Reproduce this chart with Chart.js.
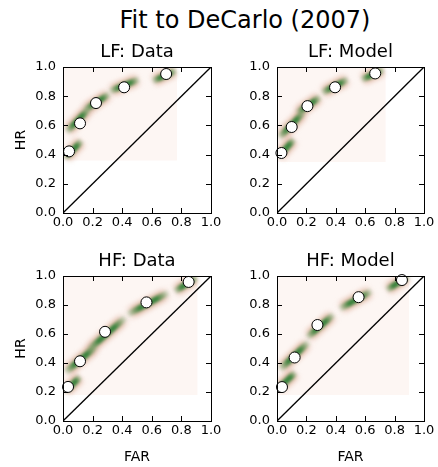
<!DOCTYPE html>
<html>
<head>
<meta charset="utf-8">
<script src="https://cdn.jsdelivr.net/npm/chart.js@4.4.1/dist/chart.umd.min.js"></script>
<style>
  body { margin: 0; background: #fff; width: 438px; height: 467px; position: relative; overflow: hidden; font-family: "DejaVu Sans"; }
  canvas { position: absolute; }
  #title { position: absolute; left: 0; width: 490px; top: 6px; text-align: center; font-size: 24px; color: #000; }
</style>
</head>
<body>
<div id="title">Fit to DeCarlo (2007)</div>
<canvas id="c0" width="232" height="200" style="left:0px;top:36px"></canvas>
<canvas id="c1" width="219" height="200" style="left:219px;top:36px"></canvas>
<canvas id="c2" width="232" height="222" style="left:0px;top:245px"></canvas>
<canvas id="c3" width="219" height="222" style="left:219px;top:245px"></canvas>
<script>
const panelTitles = ["LF: Data", "LF: Model", "HF: Data", "HF: Model"];
const tickValues = [0, 0.2, 0.4, 0.6, 0.8, 1.0];
const tickLabels = ["0.0", "0.2", "0.4", "0.6", "0.8", "1.0"];

// observed / predicted ROC points
const farLFData = [0.041, 0.115, 0.223, 0.413, 0.697];
const hrLFData = [0.422, 0.614, 0.753, 0.861, 0.952];
const farLFModel = [0.030, 0.100, 0.207, 0.395, 0.668];
const hrLFModel = [0.411, 0.589, 0.732, 0.861, 0.956];
const farHFData = [0.034, 0.115, 0.284, 0.564, 0.849];
const hrHFData = [0.235, 0.412, 0.615, 0.818, 0.959];
const farHFModel = [0.034, 0.120, 0.275, 0.555, 0.850];
const hrHFModel = [0.234, 0.438, 0.662, 0.854, 0.972];

// density streaks: [far1, hr1, far2, hr2]
const blobsLFData = [[0.01, 0.37, 0.13, 0.50], [0.02, 0.55, 0.18, 0.72], [0.14, 0.70, 0.32, 0.82], [0.31, 0.83, 0.52, 0.92], [0.60, 0.90, 0.77, 0.98]];
const blobsLFModel = [[0.005, 0.38, 0.12, 0.51], [0.01, 0.51, 0.19, 0.70], [0.13, 0.68, 0.30, 0.80], [0.30, 0.82, 0.49, 0.92], [0.57, 0.91, 0.73, 0.985]];
const blobsHFData = [[0.01, 0.20, 0.12, 0.31], [0.01, 0.33, 0.23, 0.52], [0.16, 0.48, 0.43, 0.72], [0.43, 0.73, 0.72, 0.89], [0.75, 0.89, 0.91, 0.995]];
const blobsHFModel = [[0.005, 0.22, 0.13, 0.34], [0.016, 0.35, 0.22, 0.55], [0.20, 0.57, 0.39, 0.74], [0.42, 0.77, 0.65, 0.90], [0.74, 0.90, 0.90, 1.0]];

// image extent: [far max, hr min]
const extentLFData = [0.77, 0.36];
const extentLFModel = [0.74, 0.35];
const extentHFData = [0.91, 0.18];
const extentHFModel = [0.90, 0.18];

const tickFont = { family: "DejaVu Sans", size: 13 };
const labelFont = { family: "DejaVu Sans", size: 14 };

let gradient = (ctx, stops) => {
  if (!ctx.p0 || !ctx.p1) return "rgba(0,0,0,0)";
  const g = ctx.chart.ctx.createLinearGradient(ctx.p0.x, ctx.p0.y, ctx.p1.x, ctx.p1.y);
  stops.forEach((s) => g.addColorStop(s[0], s[1]));
  return g;
};
const haloStops = [[0, "rgba(225,175,165,0)"], [0.18, "rgba(210,150,120,0.6)"], [0.82, "rgba(210,150,120,0.6)"], [1, "rgba(225,175,165,0)"]];
const coreStops = [[0, "rgba(60,140,60,0)"], [0.3, "rgba(40,125,50,0.9)"], [0.7, "rgba(40,125,50,0.9)"], [1, "rgba(60,140,60,0)"]];

const blurPlugin = {
  id: "blur",
  beforeDatasetDraw(chart, args) {
    if (chart.data.datasets[args.index].blur) {
      chart.ctx.save();
      chart.ctx.filter = "blur(" + chart.data.datasets[args.index].blur + "px)";
    }
  },
  afterDatasetDraw(chart, args) {
    if (chart.data.datasets[args.index].blur) chart.ctx.restore();
  },
};

const framePlugin = {
  id: "frame",
  afterDatasetsDraw(chart) {
    const { ctx, chartArea: a, scales } = chart;
    ctx.save();
    ctx.strokeStyle = "#000";
    ctx.lineWidth = 1;
    ctx.beginPath();
    scales.x.ticks.forEach((t) => {
      const px = Math.round(scales.x.getPixelForValue(t.value)) + 0.5;
      ctx.moveTo(px, a.bottom); ctx.lineTo(px, a.bottom - 5);
      ctx.moveTo(px, a.top); ctx.lineTo(px, a.top + 5);
    });
    scales.y.ticks.forEach((t) => {
      const py = Math.round(scales.y.getPixelForValue(t.value)) + 0.5;
      ctx.moveTo(a.left, py); ctx.lineTo(a.left + 5, py);
      ctx.moveTo(a.right, py); ctx.lineTo(a.right - 5, py);
    });
    ctx.stroke();
    ctx.strokeRect(Math.round(a.left) + 0.5, Math.round(a.top) + 0.5, Math.round(a.right - a.left), Math.round(a.bottom - a.top));
    ctx.restore();
  },
};

let makeChart = (id, title, far, hr, blobs, extent, showHR, showFAR, yWidth, xHeight, padRight) => {
  const datasets = [];
  datasets.push({
    type: "scatter",
    data: far.map((v, i) => ({ x: v, y: hr[i] })),
    pointRadius: 5.5,
    pointBackgroundColor: "#fff",
    pointBorderColor: "#000",
    pointBorderWidth: 1,
    clip: false,
    order: 0,
  });
  datasets.push({
    type: "line",
    data: [{ x: 0, y: 0 }, { x: 1, y: 1 }],
    borderColor: "#000",
    borderWidth: 1.3,
    pointRadius: 0,
    order: 1,
  });
  blobs.forEach((b) => {
    datasets.push({
      type: "line",
      data: [{ x: b[0], y: b[1] }, { x: b[2], y: b[3] }],
      borderWidth: 6,
      borderCapStyle: "butt",
      pointRadius: 0,
      blur: 1.5,
      segment: { borderColor: (ctx) => gradient(ctx, coreStops) },
      order: 2,
    });
    datasets.push({
      type: "line",
      data: [{ x: b[0], y: b[1] }, { x: b[2], y: b[3] }],
      borderWidth: 12,
      borderCapStyle: "butt",
      pointRadius: 0,
      blur: 2.5,
      segment: { borderColor: (ctx) => gradient(ctx, haloStops) },
      order: 3,
    });
  });
  datasets.push({
    type: "line",
    data: [{ x: 0, y: 1 }, { x: extent[0], y: 1 }],
    borderWidth: 0,
    pointRadius: 0,
    backgroundColor: "rgb(253,246,243)",
    fill: { value: extent[1] },
    order: 4,
  });

  return new Chart(document.getElementById(id).getContext("2d"), {
    type: "scatter",
    data: { datasets: datasets },
    options: {
      responsive: false,
      animation: false,
      layout: { padding: { left: 0, right: padRight, top: 6, bottom: 0 } },
      plugins: {
        legend: { display: false },
        tooltip: { enabled: false },
        title: {
          display: true,
          text: title,
          fullSize: false,
          color: "#000",
          font: { family: "DejaVu Sans", size: 18, weight: "normal" },
          padding: { top: 0, bottom: 3.4 },
        },
      },
      scales: {
        x: {
          type: "linear",
          min: 0,
          max: 1,
          afterFit: (s) => { s.height = xHeight; },
          afterBuildTicks: (s) => { s.ticks = tickValues.map((v) => ({ value: v })); },
          grid: { display: false, drawTicks: false },
          border: { display: false },
          ticks: { autoSkip: false, maxRotation: 0, padding: 2, color: "#000", font: tickFont, callback: (v, i) => tickLabels[i] },
          title: { display: showFAR, text: "FAR", color: "#000", font: labelFont, padding: { top: 0, bottom: 1.6 } },
        },
        y: {
          type: "linear",
          min: 0,
          max: 1,
          afterFit: (s) => { s.width = yWidth; },
          afterBuildTicks: (s) => { s.ticks = tickValues.map((v) => ({ value: v })); },
          grid: { display: false, drawTicks: false },
          border: { display: false },
          ticks: { autoSkip: false, padding: 7, color: "#000", font: tickFont, callback: (v, i) => tickLabels[i] },
          title: { display: showHR, text: "HR", color: "#000", font: labelFont, padding: { top: 12.8, bottom: 0 } },
        },
      },
    },
    plugins: [blurPlugin, framePlugin],
  });
};

makeChart("c0", panelTitles[0], farLFData, hrLFData, blobsLFData, extentLFData, true, false, 63, 23, 21);
makeChart("c1", panelTitles[1], farLFModel, hrLFModel, blobsLFModel, extentLFModel, false, false, 58, 23, 14);
makeChart("c2", panelTitles[2], farHFData, hrHFData, blobsHFData, extentHFData, true, true, 63, 46, 21);
makeChart("c3", panelTitles[3], farHFModel, hrHFModel, blobsHFModel, extentHFModel, false, true, 58, 46, 14);
</script>
</body>
</html>
